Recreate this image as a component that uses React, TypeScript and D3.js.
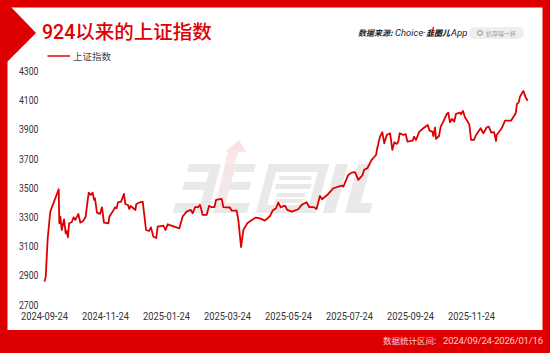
import React from "react";
import * as d3 from "d3";

const sessions = [0,0.8,2.1,3.8,9.3,9.7,10.4,11.3,12.8,13.9,14.5,15.4,16.1,17.8,19.1,20.2,22.2,23.5,25.5,27,27.9,29,30.3,31.6,32.5,33.1,34.4,36.4,37.7,39,41.9,42.5,44.7,46.2,47.3,48.2,50.2,52.1,53,54.8,55.6,56.5,59.6,60.2,62.6,64.4,66.6,68.5,69.8,71.4,73.3,74.2,77.9,79.4,80.8,88.4,90.6,93.2,95.9,97.2,98.7,100.7,102,103,103.7,106.3,107.9,109.6,111.4,112.5,116.2,117.3,121.6,122.7,126,127.1,128.9,130.4,133,135.9,138.7,141.3,144.6,147.9,149.6,151.8,153.3,154.9,157.7,159.2,162.1,166.4,168.6,171.9,173.6,176.7,178.4,180.6,182,186.1,189.4,194.9,196,199.2,201.4,203.6,205.8,208.6,209.5,211.7,214.5,217.4,218.2,220,221.5,222.8,224.4,226.6,228.1,229.4,231,232,232.9,235.3,236.8,238,241.4,242.3,243.6,245.8,248.4,251.3,252.4,254.3,255,256.1,256.7,258.7,259.8,261.5,263.7,264.8,265.9,267.2,268.7,269.8,272.5,273.1,274.4,275.7,277.5,278.6,279.7,281.6,283,286,287.8,290,291.3,293,294.8,296.1,296.5,299.8,302,305.9,309,309.8,310.9,311.8,314,315.5,316.8];
const values = [2860,2894,3157,3340,3493,3260,3305,3214,3287,3191,3207,3164,3260,3267,3301,3283,3324,3264,3278,3305,3385,3470,3454,3470,3420,3431,3333,3324,3369,3264,3260,3305,3340,3369,3362,3404,3408,3461,3392,3385,3358,3378,3351,3392,3404,3408,3214,3207,3232,3168,3159,3237,3244,3214,3253,3225,3306,3340,3352,3329,3370,3370,3386,3347,3317,3317,3379,3370,3370,3420,3427,3370,3368,3347,3347,3283,3096,3215,3260,3283,3299,3294,3278,3310,3347,3363,3402,3370,3381,3352,3340,3356,3386,3404,3370,3370,3358,3447,3425,3461,3500,3518,3511,3591,3607,3610,3557,3591,3626,3637,3694,3728,3774,3854,3884,3808,3865,3877,3763,3815,3804,3820,3877,3865,3872,3820,3826,3854,3831,3888,3911,3934,3895,3888,3858,3916,3838,3858,3922,3957,4007,4018,3952,3975,3957,4009,4018,4007,4030,3986,3957,3934,3831,3831,3865,3911,3877,3918,3922,3881,3884,3824,3865,3911,3963,3963,4014,4078,4087,4128,4167,4123,4100];
const yTicks = [4300,4100,3900,3700,3500,3300,3100,2900,2700];
const xLabels = ["2024-09-24","2024-11-24","2025-01-24","2025-03-24","2025-05-24","2025-07-24","2025-09-24","2025-11-24"];
const xTickSessions = [0,40,80,120,160,200,240,280];
const seriesName = "上证指数";
const title = "924以来的上证指数";
const sourceLabel = "数据来源:";
const sourceName = "Choice";
const logoText = "韭圈儿";
const logoSuffix = "App";
const searchText = "扒草得一杯";
const rangeLabel = "数据统计区间:";
const rangeDates = "2024/09/24-2026/01/16";
// watermark logo bars: [x, y, w, h]
const wmBars = [
  [176,164,30,8],[176,182,30,8],[173,203,33,10],[198,164,10,49],
  [213,164,10,49],[223,164,20,8],[223,182,20,8],[223,203,24,10],
  [256,164,60,8],[256,205,60,8],[256,164,9,49],[307,164,9,49],
  [270,176,32,4],[268,184,36,5],[272,193,28,4],[272,199,28,4],
  [323,164,12,49],[345,164,13,49],[358,203,12,10],
];

const RED = "#de0000";
const SANS = "Roboto, 'Noto Sans CJK SC', sans-serif";
const CJK = "'Noto Sans CJK SC', sans-serif";

export default function App() {
  const x = d3.scaleLinear().domain([0, 320]).range([44.5, 532.5]);
  const y = d3.scaleLinear().domain([2700, 4300]).range([305, 71.5]);
  const line = d3.line<number>().x((_, i) => x(sessions[i])).y((v) => y(v));
  return (
    <svg width={550} height={353} style={{ position: "absolute", left: 0, top: 0, background: "#fff" }}>
      <defs>
        <linearGradient id="arrowFade" x1="0" y1="0" x2="0" y2="1">
          <stop offset="0" stopColor="#fbdede" />
          <stop offset="1" stopColor="#fdecec" stopOpacity={0.4} />
        </linearGradient>
      </defs>
      <g fill={RED}>
        <rect x={0} y={0} width={550} height={7.5} />
        <rect x={0} y={0} width={7.5} height={353} />
        <rect x={542.5} y={0} width={7.5} height={353} />
        <rect x={0} y={330} width={550} height={23} />
        <polygon points="7,7 11,7 36,33 7,62" />
      </g>
      <g transform="translate(57,0) skewX(-15)" fill="#e9e9e9">
        {wmBars.map((b, i) => (
          <rect key={i} x={b[0]} y={b[1]} width={b[2]} height={b[3]} />
        ))}
      </g>
      <polygon points="239,140 246,152 238,152 225,203 215,203 228,152 225,152" fill="url(#arrowFade)" />
      <text x={42} y={39} fill={RED} fontFamily={SANS} fontSize={19.5} fontWeight={500}>{title}</text>
      <line x1={47.5} x2={70} y1={56} y2={56} stroke={RED} strokeWidth={1.5} />
      <text x={73} y={60} fill="#444" fontFamily={CJK} fontSize={9.5}>{seriesName}</text>
      <g fill="#222" fontStyle="italic">
        <text x={358} y={36} fontFamily={CJK} fontSize={8} fontWeight={700}>{sourceLabel}</text>
        <text x={395} y={36} fontFamily={SANS} fontSize={9.5}>{sourceName}</text>
        <text x={423} y={36} fontFamily={SANS} fontSize={9.5}>·</text>
        <text x={426} y={36} fontFamily={CJK} fontSize={8} fontWeight={900}>{logoText}</text>
        <text x={451} y={36} fontFamily={SANS} fontSize={9.5}>{logoSuffix}</text>
      </g>
      <line x1={433.5} x2={431.5} y1={27} y2={36} stroke={RED} strokeWidth={1.2} />
      <rect x={469} y={27} width={55} height={12} rx={6} fill="#eeeeee" />
      <circle cx={480} cy={33} r={2.4} fill="none" stroke="#666" strokeWidth={0.7} />
      <text x={486} y={35.5} fill="#999" fontFamily={CJK} fontSize={6}>{searchText}</text>
      <g fill="#333" fontFamily={SANS} fontSize={10}>
        {yTicks.map((t) => (
          <text key={t} x={19} y={y(t) + 3.5} textLength={19.5} lengthAdjust="spacingAndGlyphs">{t}</text>
        ))}
        {xLabels.map((l, i) => (
          <text key={l} x={x(xTickSessions[i]) - 23.5} y={320} textLength={47} lengthAdjust="spacingAndGlyphs">{l}</text>
        ))}
      </g>
      <path d={line(values) ?? ""} fill="none" stroke={RED} strokeWidth={1.8} strokeLinejoin="round" />
      <text x={383} y={343.5} fill="#f5cfcf" fontFamily={CJK} fontSize={8.5}>{rangeLabel}</text>
      <text x={443} y={343.5} fill="#f5cfcf" fontFamily={SANS} fontSize={9.5} textLength={100}>{rangeDates}</text>
    </svg>
  );
}
